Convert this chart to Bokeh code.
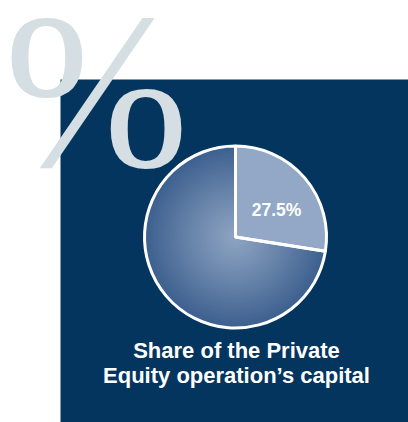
import math
from bokeh.plotting import figure
from bokeh.models import Range1d
from bokeh.core.properties import value
from bokeh.embed import file_html
from bokeh.resources import INLINE

# ---- data ----
slice_labels = ["Private Equity operation", "Other"]
slice_values = [27.5, 72.5]
label_texts = ["27.5%"]
title_lines = ["Share of the Private", "Equity operation\u2019s capital"]
symbol_text = ["%"]

W, H = 408, 422
p = figure(width=W, height=H, output_backend="svg", toolbar_location=None,
           x_range=Range1d(0, W), y_range=Range1d(0, H),
           min_border=0, background_fill_color="white", border_fill_color="white")
p.axis.visible = False
p.grid.visible = False
p.outline_line_color = None

NAVY = "#03355f"

# dark panel
p.quad(left=[60], right=[W], bottom=[0], top=[343], fill_color=NAVY, line_color=None)

# big percent symbol
p.text(x=[96], y=[332], text=symbol_text, text_font=value("Liberation Serif"),
       text_font_size="222px", text_color="#d5dee2", text_baseline="middle",
       text_align="center")

# pie
cx, cy, R = 235, 185.5, 91
total = sum(slice_values)
frac0 = slice_values[0] / total
a_top = math.pi / 2
a0_start = a_top - 2 * math.pi * frac0
a1_end = a_top + 2 * math.pi * (1 - frac0)

def lerp(c1, c2, t):
    return "#%02x%02x%02x" % tuple(int(round(a + (b - a) * t)) for a, b in zip(c1, c2))

edge = (0x3d, 0x60, 0x8f)
center = (0x8e, 0xa4, 0xc2)
N = 45
for i in range(N):
    r = R * (1 - i / N)
    t = (r / R) ** 1.1
    col = lerp(center, edge, t)
    p.wedge(x=[cx], y=[cy], radius=[r], start_angle=[a_top], end_angle=[a1_end],
            fill_color=col, line_color=None)

# highlighted slice
p.wedge(x=[cx], y=[cy], radius=[R], start_angle=[a0_start], end_angle=[a_top],
        fill_color="#93a8c6", line_color="white", line_width=3)
# outline for whole pie
p.wedge(x=[cx], y=[cy], radius=[R], start_angle=[a_top], end_angle=[a1_end],
        fill_color=None, line_color="white", line_width=3)

# slice label
p.text(x=[276], y=[213], text=label_texts, text_font=value("Liberation Sans"),
       text_font_style="bold", text_font_size="17.5px", text_color="white",
       text_align="center", text_baseline="middle")

# title
p.text(x=[236, 236], y=[72, 47.5], text=title_lines, text_font=value("Liberation Sans"),
       text_font_style="bold", text_font_size="22px", text_color="white",
       text_align="center", text_baseline="middle")

open("out.html", "w").write(file_html(p, INLINE))
